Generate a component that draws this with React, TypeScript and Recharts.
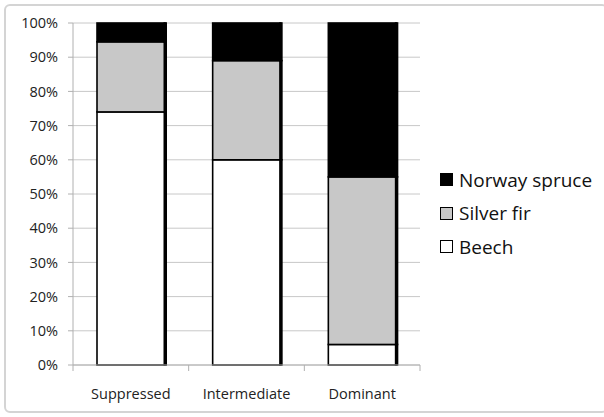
import React from 'react';
import { BarChart, Bar, XAxis, YAxis, CartesianGrid } from 'recharts';

const categories = ['Suppressed', 'Intermediate', 'Dominant'];
const beech = [74, 60, 6];
const silverFir = [20.5, 29, 49];
const norwaySpruce = [5.5, 11, 45];
const yTicks = [0, 10, 20, 30, 40, 50, 60, 70, 80, 90, 100];

const series = [
  { key: 'beech', name: 'Beech', color: '#ffffff' },
  { key: 'silverFir', name: 'Silver fir', color: '#c8c8c8' },
  { key: 'norwaySpruce', name: 'Norway spruce', color: '#000000' },
];

const data = categories.map((name, i) => ({
  name,
  beech: beech[i],
  silverFir: silverFir[i],
  norwaySpruce: norwaySpruce[i],
}));

const FONT = '"Open Sans", sans-serif';

const BarSegment = (props: any) => {
  const { x, y, width, height, fill } = props;
  if (!height) return null;
  return (
    <g>
      <rect x={x} y={y} width={width} height={height} fill={fill} stroke='#000' strokeWidth={1.6} />
      <rect x={x + width - 1.5} y={y - 0.8} width={3.5} height={height + 1.6} fill='#000' />
    </g>
  );
};

// category label plus tick marks at the category boundaries
const CategoryTick = (props: any) => {
  const { x, y, payload, width, visibleTicksCount, index } = props;
  const band = width / visibleTicksCount;
  return (
    <g>
      {index === 0 && (
        <line x1={x - band / 2} x2={x - band / 2} y1={y} y2={y + 6} stroke='#b0b0b0' />
      )}
      <line x1={x + band / 2} x2={x + band / 2} y1={y} y2={y + 6} stroke='#b0b0b0' />
      <text x={x} y={y + 34} textAnchor='middle' fontFamily={FONT} fontSize={14.5} fill='#222'>
        {payload.value}
      </text>
    </g>
  );
};

const App: React.FC = () => {
  return (
    <div
      style={{
        position: 'absolute',
        left: 0,
        top: 0,
        width: 604,
        height: 417,
        background: '#fff',
      }}
    >
      <div
        style={{
          position: 'absolute',
          left: 4,
          top: 4,
          width: 604,
          height: 409,
          border: '2px solid #d4d4d4',
          borderRadius: 6,
          boxSizing: 'border-box',
        }}
      />
      <BarChart
        width={604}
        height={417}
        data={data}
        barSize={68}
        margin={{ top: 23, right: 184, left: 13, bottom: 22 }}
        style={{ position: 'absolute', left: 0, top: 0 }}
      >
        <CartesianGrid vertical={false} stroke='#c8c8c8' />
        <XAxis
          dataKey='name'
          interval={0}
          tickSize={0}
          tickMargin={0}
          tickLine={false}
          axisLine={{ stroke: '#b0b0b0' }}
          tick={<CategoryTick />}
          height={30}
        />
        <YAxis
          width={60}
          domain={[0, 100]}
          ticks={yTicks}
          interval={0}
          tickFormatter={(v: number) => `${v}%`}
          tickSize={5}
          tickMargin={10}
          axisLine={{ stroke: '#b0b0b0' }}
          tickLine={{ stroke: '#b0b0b0' }}
          tick={{ fontFamily: FONT, fontSize: 14.5, fill: '#222' }}
        />
        {series.map((s) => (
          <Bar
            key={s.key}
            dataKey={s.key}
            name={s.name}
            stackId='a'
            fill={s.color}
            shape={<BarSegment />}
            isAnimationActive={false}
          />
        ))}
      </BarChart>
      <div style={{ position: 'absolute', left: 440, top: 163, fontFamily: FONT }}>
        {[...series].reverse().map((s) => (
          <div key={s.key} style={{ display: 'flex', alignItems: 'center', height: 33.5 }}>
            <div
              style={{
                width: 11,
                height: 11,
                background: s.color,
                border: '1.5px solid #000',
                marginRight: 6,
              }}
            />
            <span style={{ fontSize: 19, color: '#111' }}>{s.name}</span>
          </div>
        ))}
      </div>
    </div>
  );
};

export default App;
